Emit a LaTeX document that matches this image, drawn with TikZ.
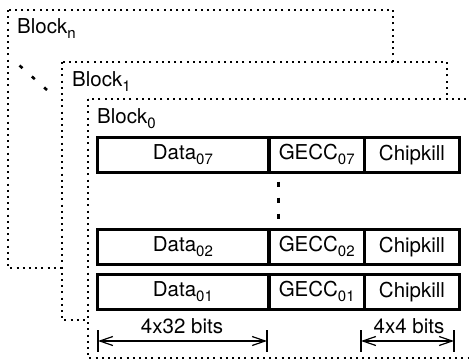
\documentclass[tikz,border=0pt]{standalone}
\usepackage{fontspec}
\setmainfont{TeX Gyre Heros}
\usetikzlibrary{arrows.meta}
\newcommand{\sbs}[1]{\raisebox{-5pt}{\fontsize{15}{16}\selectfont #1}}
\begin{document}
\begin{tikzpicture}[x=1pt,y=-1pt,
  blockbox/.style={draw,fill=white,line width=1.3pt,dash pattern=on 2pt off 4.2pt},
  blocklabel/.style={anchor=base west,inner sep=0pt,font=\fontsize{20.5}{24}\selectfont},
  cell/.style={draw,line width=1.8pt,minimum height=34pt,inner sep=0pt,anchor=north west,
     font=\fontsize{20.5}{24}\selectfont},
  rowframe/.style={draw,line width=2.6pt},
  dim/.style={line width=1.2pt,{Straight Barb[length=13pt,width=9pt]}-{Straight Barb[length=13pt,width=9pt]}},
  tick/.style={line width=1.2pt},
  dimlabel/.style={font=\fontsize{20.5}{24}\selectfont,anchor=base,inner sep=0pt}]
\clip (0,0) rectangle (469,362);
\fill[white] (0,0) rectangle (469,362);
% stacked blocks
\draw[blockbox] (8,10) rectangle (393,268);
\node[blocklabel] (ln) at (17,33) {Block\sbs{n}};
\draw[blockbox] (62,62) rectangle (447,320);
\node[blocklabel] (l1) at (72,86) {Block\sbs{1}};
\draw[blockbox] (88,99) rectangle (480,358);
\node[blocklabel] (l0) at (97,123) {Block\sbs{0}};
% diagonal ellipsis
\coordinate (d1) at (19.5,65.5);
\coordinate (d2) at (47,90);
\draw[line width=2.6pt,dash pattern=on 4pt off 12.5pt] (d1) -- (d2);
% rows
\foreach \nm/\y/\sub in {r7/137/07, r2/229/02, r1/274/01}{
  \node[cell,minimum width=170pt] (\nm d) at (97,\y) {Data\sbs{\sub}};
  \node[cell,minimum width=94pt] (\nm g) at (\nm d.north east) {GECC\sbs{\sub}};
  \node[cell,minimum width=93pt] (\nm c) at (\nm g.north east) {Chipkill};
  \draw[rowframe] (\nm d.north west) rectangle (\nm c.south east);
}
% vertical ellipsis
\coordinate (v1) at (278.5,181.5);
\coordinate (v2) at (278.5,219);
\draw[line width=2.4pt,dash pattern=on 5pt off 11pt] (v1) -- (v2);
% dimensions
\coordinate (t1a) at (98,330); \coordinate (t1b) at (98,352);
\coordinate (t2a) at (267,330); \coordinate (t2b) at (267,352);
\coordinate (t3a) at (361,330); \coordinate (t3b) at (361,352);
\coordinate (t4a) at (454,330); \coordinate (t4b) at (454,352);
\draw[tick] (t1a) -- (t1b);
\draw[tick] (t2a) -- (t2b);
\draw[tick] (t3a) -- (t3b);
\draw[tick] (t4a) -- (t4b);
\coordinate (a1) at (98,341); \coordinate (a2) at (267,341);
\coordinate (a3) at (361,341); \coordinate (a4) at (454,341);
\draw[dim] (a1) -- (a2);
\draw[dim] (a3) -- (a4);
\node[dimlabel] (w1) at (182,333) {4x32 bits};
\node[dimlabel] (w2) at (409,333) {4x4 bits};
\end{tikzpicture}
\end{document}
